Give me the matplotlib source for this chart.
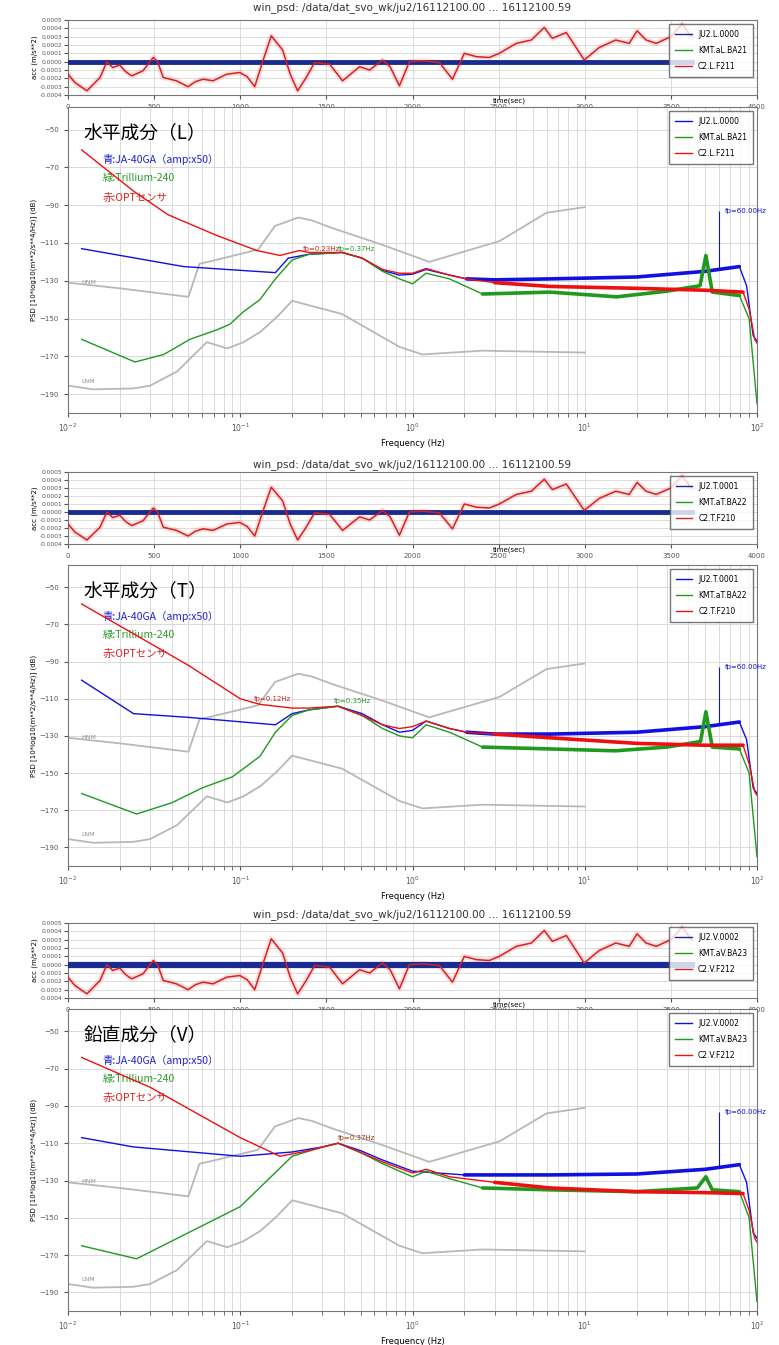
import numpy as np
import matplotlib
matplotlib.use('Agg')
import matplotlib.pyplot as plt
from matplotlib.ticker import FixedLocator, FormatStrFormatter, LogLocator

# ---- time series (sec / acc in 1e-4 m/s**2) ----
t_sec = [0, 40, 110, 186, 226, 260, 300, 335, 370, 435, 495, 520, 553, 630, 697, 740,
         784, 842, 922, 997, 1040, 1084, 1130, 1180, 1246, 1290, 1333, 1380, 1432, 1519,
         1594, 1693, 1751, 1826, 1870, 1924, 1982, 2060, 2156, 2232, 2301, 2371, 2446,
         2504, 2603, 2690, 2765, 2812, 2893, 2997, 3084, 3180, 3258, 3304, 3356, 3415,
         3500, 3565, 3620]
c2_acc = [-1.5, -2.5, -3.5, -1.9, 0.0, -0.7, -0.4, -1.2, -1.7, -1.1, 0.5, 0.0, -1.9, -2.3,
          -3.0, -2.4, -2.1, -2.3, -1.5, -1.3, -1.8, -3.0, 0.0, 3.1, 1.4, -1.5, -3.5, -2.0,
          -0.1, -0.3, -2.3, -0.6, -1.0, 0.2, -0.6, -2.9, 0.0, 0.1, -0.1, -2.1, 1.0, 0.6,
          0.5, 1.0, 2.2, 2.6, 4.1, 2.8, 3.5, 0.2, 1.7, 2.6, 2.2, 3.7, 2.6, 2.2, 3.0, 4.5, 3.0]
ju2_t = [0, 3620]
ju2_acc = [0.0, 0.0]
kmt_t = [0, 3620]
kmt_acc = [0.0, 0.0]

# ---- Peterson noise models ----
nhnm_f = [0.01, 0.02, 0.05, 0.058, 0.065, 0.127, 0.159, 0.217, 0.26, 0.34, 0.67, 1.25,
          3.2, 6.0, 10.0]
nhnm_db = [-131, -134, -138.5, -121, -120, -113.5, -101, -96.5, -98, -102, -111, -120,
           -109, -94, -91]
nlnm_f = [0.01, 0.014, 0.024, 0.03, 0.043, 0.064, 0.084, 0.104, 0.131, 0.164, 0.2, 0.39,
          0.84, 1.14, 2.55, 10.0]
nlnm_db = [-185.5, -187.5, -187, -185.5, -178, -162.5, -165.8, -162.6, -157, -149, -140.6,
           -147.6, -165, -169, -167, -168]

# ---- PSD, horizontal L ----
L_ju2_f = [0.012, 0.047, 0.16, 0.19, 0.25, 0.39, 0.51, 0.67, 0.84, 1.0, 1.2, 1.64, 2.06,
           3, 6.3, 20, 50, 79, 87, 95, 100]
L_ju2_db = [-113, -122.5, -125.7, -118, -116, -115, -118, -124.5, -127, -126.5, -124, -127,
            -129, -129.5, -129, -128, -125, -122.5, -132.6, -159, -162]
L_kmt_f = [0.012, 0.0245, 0.036, 0.051, 0.073, 0.087, 0.104, 0.13, 0.16, 0.2, 0.25, 0.39,
           0.51, 0.67, 0.84, 1.0, 1.2, 1.64, 2.55, 6.3, 15.3, 30, 46.7, 50.5, 55, 79, 90,
           97, 100]
L_kmt_db = [-161, -173, -169, -161, -156, -153, -146.5, -140, -129, -119, -116, -115, -118,
            -125, -129, -131.6, -126, -129, -137, -136, -138.5, -135.5, -132.6, -116.6,
            -136, -137.8, -150, -182, -195]
L_c2_f = [0.012, 0.024, 0.038, 0.073, 0.125, 0.17, 0.22, 0.25, 0.39, 0.51, 0.67, 0.84, 1.0,
          1.2, 1.64, 2.06, 3, 6.3, 20, 50, 83, 90, 97, 100]
L_c2_db = [-60.7, -82.5, -95, -106, -114, -116.6, -114, -115, -115, -118, -124, -126, -126,
           -123.5, -127, -129, -131, -133, -134, -135, -136, -145, -161, -163]

# ---- PSD, horizontal T ----
T_ju2_f = [0.012, 0.024, 0.05, 0.16, 0.2, 0.25, 0.37, 0.51, 0.67, 0.84, 1.0, 1.2, 1.64,
           2.06, 3, 6.3, 20, 50, 79, 87, 95, 100]
T_ju2_db = [-100, -118, -120, -124, -118, -116, -114, -118, -124, -128, -127, -122, -126,
            -128, -129, -129, -128, -125, -122.5, -132, -158, -161]
T_kmt_f = [0.012, 0.025, 0.04, 0.06, 0.09, 0.13, 0.16, 0.2, 0.25, 0.37, 0.51, 0.67, 0.84,
           1.0, 1.2, 1.64, 2.55, 6.3, 15, 30, 47, 50.5, 55, 79, 90, 97, 100]
T_kmt_db = [-161, -172, -166, -158, -152, -141, -128, -119, -116, -114, -119, -126, -130,
            -131, -124, -128, -136, -137, -138, -136, -133, -117, -136, -137, -150, -182, -195]
T_c2_f = [0.012, 0.024, 0.05, 0.1, 0.13, 0.2, 0.25, 0.37, 0.51, 0.67, 0.84, 1.0, 1.2, 1.64,
          2.06, 3, 6.3, 20, 50, 83, 90, 97, 100]
T_c2_db = [-59, -75, -92, -110, -113, -115, -115, -114, -119, -124, -126, -125, -122, -126,
           -128, -129, -131, -134, -135, -135, -145, -160, -162]

# ---- PSD, vertical V ----
V_ju2_f = [0.012, 0.024, 0.1, 0.2, 0.3, 0.37, 0.5, 0.67, 1.0, 2.0, 6.3, 20, 50, 79, 87,
           95, 100]
V_ju2_db = [-107, -112, -117, -114.7, -112, -110, -114, -119, -125, -127, -127, -126.5,
            -124, -121.5, -131, -158, -161]
V_kmt_f = [0.012, 0.025, 0.05, 0.1, 0.2, 0.3, 0.37, 0.5, 0.67, 1.0, 1.2, 1.64, 2.55, 6.3,
           20, 45, 50.5, 55, 79, 90, 97, 100]
V_kmt_db = [-165, -172, -158, -144, -117, -112, -110, -115, -121, -128, -125, -129, -134,
            -135, -136, -134, -128, -135, -136, -150, -182, -195]
V_c2_f = [0.012, 0.03, 0.1, 0.17, 0.25, 0.37, 0.5, 0.67, 1.0, 1.2, 1.64, 3, 6.3, 20, 50,
          83, 90, 97, 100]
V_c2_db = [-64, -80, -107, -117, -114, -110, -115, -120, -126, -124, -128, -131, -134,
           -136, -136.5, -137, -146, -161, -163]

names = [['JU2.L.0000', 'KMT.aL.BA21', 'C2.L.F211'],
         ['JU2.T.0001', 'KMT.aT.BA22', 'C2.T.F210'],
         ['JU2.V.0002', 'KMT.aV.BA23', 'C2.V.F212']]
comp_titles = ['水平成分（L）', '水平成分（T）', '鉛直成分（V）']
peak_f = [[0.23, 0.37], [0.12, 0.35], [0.37]]
peak_db = [[-115, -115], [-112, -113], [-109]]
peak_txt = [['fp=0.23Hz', 'fp=0.37Hz'], ['fp=0.12Hz', 'fp=0.35Hz'], ['fp=0.37Hz']]
peak_col = [['#d02020', '#2a9a2a'], ['#d02020', '#2a9a2a'], ['#a03010']]
fp_hz = 60.0
fp_top = -93

title = 'win_psd: /data/dat_svo_wk/ju2/16112100.00 ... 16112100.59'
sensor_txt = ['青:JA-40GA（amp:x50）', '緑:Trillium-240', '赤:OPTセンサ']
sensor_col = ['#2020d0', '#2a9a2a', '#e02020']

BLUE = '#1010e0'
GREEN = '#1f9a1f'
RED = '#ee1010'
GRAY = '#b8b8b8'
JP = ['Noto Sans CJK JP', 'DejaVu Sans']

W, H = 779, 1345
fig = plt.figure(figsize=(W / 100, H / 100), dpi=100)


def frame(x0, y0, x1, y1):
    return fig.add_axes([x0 / W, 1 - y1 / H, (x1 - x0) / W, (y1 - y0) / H])


def style(ax):
    for s in ax.spines.values():
        s.set_color('#777777')
    ax.tick_params(which='both', labelsize=5, colors='#555555', length=3)


def thin_legend(ax, *args):
    leg = ax.legend(*args, loc='upper right', fontsize=5.5, labelspacing=0.9,
                    borderpad=0.8, handlelength=2.2, fancybox=False, edgecolor='#555555')
    for ln in leg.get_lines():
        ln.set_linewidth(1.0)


def draw_time(ax, lab, thick):
    acc = np.array(c2_acc) * 1e-4
    ax.plot(ju2_t, ju2_acc, color='#1a2c90', lw=thick, label=lab[0], zorder=3)
    ax.plot(kmt_t, kmt_acc, color=GREEN, lw=1, label=lab[1], zorder=2)
    ax.plot(t_sec, acc, color=RED, lw=4, alpha=0.12, zorder=2)
    ax.plot(t_sec, acc, color='#d82020', lw=1.1, label=lab[2], zorder=4)
    ax.set_xlim(0, 4000)
    ax.set_ylim(-0.0004, 0.0005)
    ax.xaxis.set_major_locator(FixedLocator(range(0, 4001, 500)))
    ax.yaxis.set_major_locator(FixedLocator(np.arange(-4, 6) * 1e-4))
    ax.yaxis.set_major_formatter(FormatStrFormatter('%.4f'))
    ax.grid(True, color='#d8d8d8', lw=0.6)
    ax.set_ylabel('acc (m/s**2)', fontsize=5, labelpad=1)
    ax.set_xlabel('time(sec)', fontsize=5)
    ax.xaxis.set_label_coords(0.64, -0.04)
    style(ax)
    ax.tick_params(axis='y', labelsize=4.3, pad=1)
    thin_legend(ax)


def draw_psd(ax, series, lab, k):
    ax.semilogx(nhnm_f, nhnm_db, color=GRAY, lw=1.3, zorder=2)
    ax.semilogx(nlnm_f, nlnm_db, color=GRAY, lw=1.3, zorder=2)
    cols = [BLUE, RED, GREEN]
    wide = [2.0, 3.0, 2.0]
    hands = {}
    for (f, db), c, fw, i in zip(series, cols, wide, [0, 2, 1]):
        f = np.array(f)
        db = np.array(db)
        ln, = ax.plot(f, db, color=c, lw=1.0, zorder=3 + i)
        m = (f >= fw) & (f <= 85)
        ax.plot(f[m], db[m], color=c, lw=2.6, zorder=3 + i, solid_capstyle='round')
        hands[i] = ln
    thin_legend(ax, [hands[0], hands[1], hands[2]], lab)
    ax.set_xlim(0.01, 100)
    ax.set_ylim(-200, -38)
    ax.yaxis.set_major_locator(FixedLocator(range(-190, -49, 20)))
    ax.xaxis.set_major_locator(LogLocator(base=10))
    ax.xaxis.set_minor_locator(LogLocator(base=10, subs=np.arange(2, 10)))
    ax.grid(True, which='both', color='#d4d4d4', lw=0.6)
    ax.set_xlabel('Frequency (Hz)', fontsize=6, labelpad=3)
    ax.set_ylabel('PSD [10*log10(m**2/s**4/Hz)] (dB)', fontsize=5, labelpad=2)
    style(ax)
    ax.tick_params(axis='x', labelsize=5.5)

    ax.text(0.012, nhnm_db[0] - 1, 'HNM', fontsize=4.5, color='#909090', va='bottom')
    ax.text(0.012, nlnm_db[0] + 1, 'LNM', fontsize=4.5, color='#909090', va='bottom')

    # fp marker of the 60 Hz peak
    bf, bdb = series[0]
    yb = np.interp(np.log10(fp_hz), np.log10(bf), bdb)
    ax.vlines(fp_hz, yb, fp_top, color=BLUE, lw=0.8, zorder=8)
    ax.text(fp_hz * 1.08, fp_top, 'fp=60.00Hz', fontsize=5, color=BLUE, va='center',
            clip_on=False)
    for pf, pd_, pt, pc in zip(peak_f[k], peak_db[k], peak_txt[k], peak_col[k]):
        ax.text(pf, pd_, pt, fontsize=5, color=pc, va='bottom', zorder=9)

    ax.text(0.022, 0.915, comp_titles[k], transform=ax.transAxes, fontsize=13.5,
            family=JP, va='center')
    for j, (s, c) in enumerate(zip(sensor_txt, sensor_col)):
        ax.text(0.05, 0.83 - j * 0.063, s, transform=ax.transAxes, fontsize=7.5,
                family=JP, color=c, va='center')


groups = [
    [(L_ju2_f, L_ju2_db), (L_kmt_f, L_kmt_db), (L_c2_f, L_c2_db)],
    [(T_ju2_f, T_ju2_db), (T_kmt_f, T_kmt_db), (T_c2_f, T_c2_db)],
    [(V_ju2_f, V_ju2_db), (V_kmt_f, V_kmt_db), (V_c2_f, V_c2_db)],
]
# pixel layout: title y, time panel top/bottom, psd top/bottom
layout = [(8, 20, 95, 107, 413), (465, 472, 544, 565, 866), (915, 923, 998, 1009, 1311)]

for k, (ty, t0, t1, p0, p1) in enumerate(layout):
    fig.text(412 / W, 1 - ty / H, title, ha='center', va='center', fontsize=7.5,
             color='#333333')
    axt = frame(68, t0, 757, t1)
    draw_time(axt, names[k], 3.5 if k < 2 else 4.5)
    axp = frame(68, p0, 757, p1)
    s = groups[k]
    draw_psd(axp, [s[0], s[2], s[1]], names[k], k)

fig.savefig('out.png', dpi=100)
